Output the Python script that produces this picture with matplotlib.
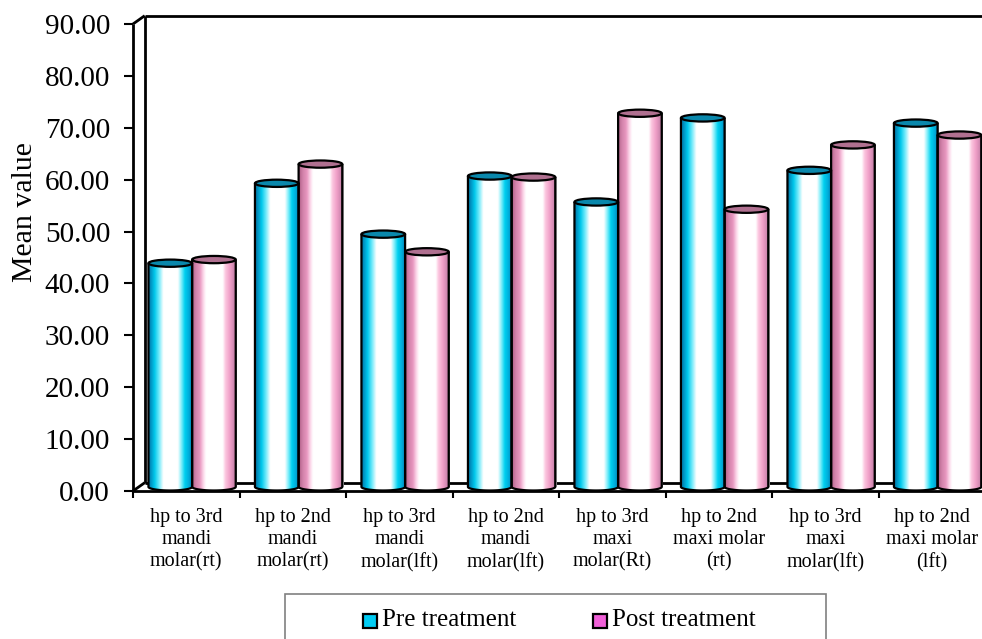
import numpy as np
import matplotlib
matplotlib.use("Agg")
import matplotlib.pyplot as plt
from matplotlib.colors import LinearSegmentedColormap
from matplotlib.patches import Ellipse, Polygon, Rectangle

plt.rcParams["font.family"] = ["Liberation Serif", "DejaVu Serif"]

# ── data ──────────────────────────────────────────────────────────────────
categories = [
    "hp to 3rd\nmandi\nmolar(rt)",
    "hp to 2nd\nmandi\nmolar(rt)",
    "hp to 3rd\nmandi\nmolar(lft)",
    "hp to 2nd\nmandi\nmolar(lft)",
    "hp to 3rd\nmaxi\nmolar(Rt)",
    "hp to 2nd\nmaxi molar\n(rt)",
    "hp to 3rd\nmaxi\nmolar(lft)",
    "hp to 2nd\nmaxi molar\n(lft)",
]
pre_treatment  = [43.1, 58.5, 48.7, 59.9, 54.9, 71.1, 61.0, 70.1]
post_treatment = [43.8, 62.2, 45.3, 59.7, 72.0, 53.5, 65.9, 67.8]
series_names   = ["Pre treatment", "Post treatment"]
y_ticks        = np.arange(0, 91, 10)

# ── 3D look parameters (data units) ───────────────────────────────────────
DEPTH_X = 0.11      # back wall offset to the right
DEPTH_Y = 1.6       # back wall offset upwards
BAR_W   = 0.41
ELL_H   = 1.4       # height of the cylinder caps

pre_cmap = LinearSegmentedColormap.from_list("pre", [
    (0.00, "#00709a"), (0.06, "#0090c0"), (0.15, "#00c8ec"),
    (0.25, "#70eafa"), (0.35, "#ffffff"), (0.68, "#ffffff"),
    (0.76, "#80eefa"), (0.84, "#00d0f0"), (0.94, "#00a8d8"),
    (1.00, "#0080b0"),
])
post_cmap = LinearSegmentedColormap.from_list("post", [
    (0.00, "#b06088"), (0.08, "#d080a8"), (0.18, "#e898c0"),
    (0.26, "#fcd8ea"), (0.32, "#ffffff"), (0.70, "#ffffff"),
    (0.76, "#fcc8e0"), (0.86, "#f0a0c8"), (0.95, "#d088b0"),
    (1.00, "#a06080"),
])
pre_top  = "#0a88ac"
post_top = "#b07090"
pre_key  = "#00ccf4"
post_key = "#f060d8"


def cylinder(ax, x0, h, cmap, top_color):
    """Shaded cylinder standing on the mid-depth plane."""
    xs = x0 + DEPTH_X / 2
    base = DEPTH_Y / 2
    ry = ELL_H / 2
    t = np.linspace(np.pi, 2 * np.pi, 80)
    bottom = np.column_stack([xs + BAR_W / 2 + BAR_W / 2 * np.cos(t),
                              base + ry * np.sin(t)])
    verts = np.vstack([[xs, base + h], bottom, [xs + BAR_W, base + h]])

    # soft grey shadow on the right side
    ax.add_patch(Rectangle((xs + BAR_W, base), 0.012, h, fc="#b8b8b8",
                           ec="none", zorder=2.5))

    clip = Polygon(verts, closed=True, transform=ax.transData)
    grad = np.linspace(0, 1, 256)[None, :]
    im = ax.imshow(grad, cmap=cmap, aspect="auto", interpolation="bilinear",
                   extent=(xs, xs + BAR_W, base - ry, base + h), zorder=3)
    im.set_clip_path(clip)
    ax.add_patch(Polygon(verts, closed=False, fill=False, ec="black",
                         lw=1.6, zorder=4))
    ax.add_patch(Ellipse((xs + BAR_W / 2, base + h), BAR_W, ELL_H,
                         fc=top_color, ec="black", lw=1.6, zorder=5))


fig = plt.figure(figsize=(9.82, 6.39), dpi=100)
ax = fig.add_axes([133 / 982, 148 / 639, 852 / 982, 467 / 639])
for s in ax.spines.values():
    s.set_visible(False)

# walls and floor
line_kw = dict(color="black", lw=2.0, clip_on=False, zorder=2,
               solid_capstyle="butt")
x_end = 8.3
ax.plot([0, 0], [0, 90], **line_kw)
ax.plot([DEPTH_X, DEPTH_X], [DEPTH_Y, 90 + DEPTH_Y], **line_kw)
ax.plot([0, DEPTH_X], [90, 90 + DEPTH_Y], **line_kw)
ax.plot([DEPTH_X, x_end], [90 + DEPTH_Y, 90 + DEPTH_Y], **line_kw)
ax.plot([0, DEPTH_X], [0, DEPTH_Y], **line_kw)
ax.plot([0, x_end], [0, 0], **line_kw)
ax.plot([DEPTH_X, x_end], [DEPTH_Y, DEPTH_Y], **line_kw)

for i, (pv, qv) in enumerate(zip(pre_treatment, post_treatment)):
    left = i + 0.5 - BAR_W
    cylinder(ax, left, pv, pre_cmap, pre_top)
    cylinder(ax, left + BAR_W, qv, post_cmap, post_top)

ax.set_xlim(0, 8)
ax.set_ylim(0, 90)

ax.set_yticks(y_ticks)
ax.set_yticklabels([f"{v:.2f}" for v in y_ticks])
ax.tick_params(axis="y", direction="out", length=6.5, width=1.5,
               pad=10, labelsize=21)

ax.set_xticks(np.arange(8) + 0.5)
ax.set_xticklabels(categories, linespacing=1.25)
ax.set_xticks(np.arange(9), minor=True)
ax.tick_params(axis="x", which="major", length=0, pad=12, labelsize=14.5)
ax.tick_params(axis="x", which="minor", direction="out", length=5,
               width=1.5)

fig.text(25 / 982, 1 - 212 / 639, "Mean value", rotation=90,
         ha="center", va="center", fontsize=21.5)

# legend box
fig.add_artist(Rectangle((285 / 982, -0.05), 541 / 982, 0.05 + 45 / 639,
                         transform=fig.transFigure, fill=False,
                         ec="#808080", lw=1.2))
for (mx, tx), name, col in zip([(363, 382), (593, 612)], series_names,
                               [pre_key, post_key]):
    fig.add_artist(Rectangle((mx / 982, 1 - 628 / 639), 14 / 982, 14 / 639,
                             transform=fig.transFigure, fc=col,
                             ec="black", lw=1.6))
    fig.text(tx / 982, 1 - 620 / 639, name, ha="left", va="center",
             fontsize=18)

fig.savefig("out.png", dpi=100)
